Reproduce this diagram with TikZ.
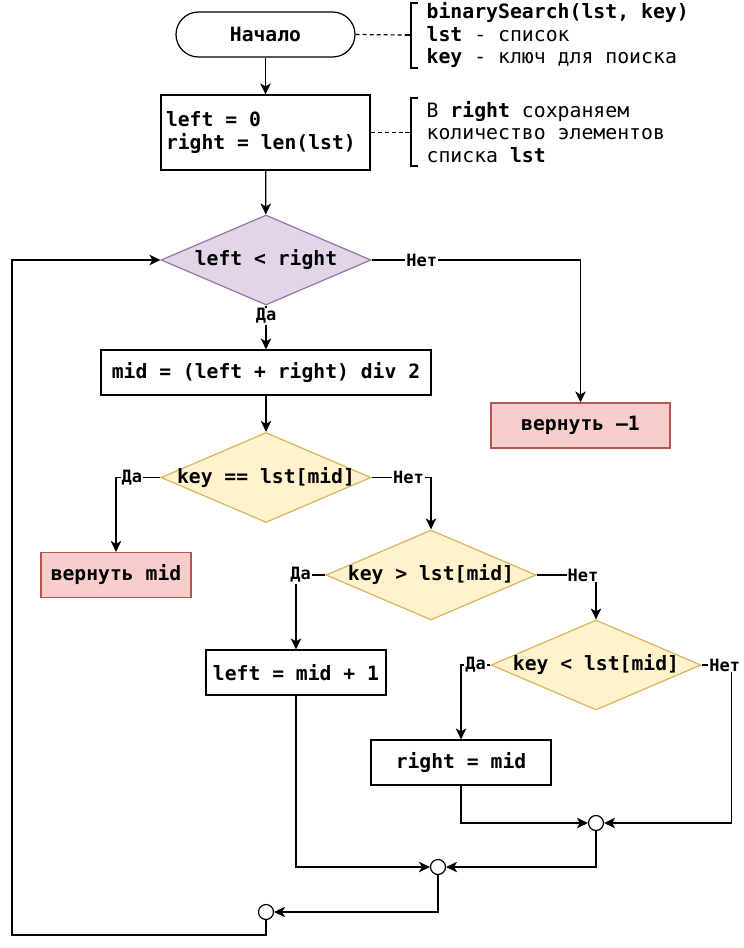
\documentclass[tikz,border=0pt]{standalone}
\usepackage{fontspec}
\newfontfamily\codefont{DejaVu Sans Mono}
\usetikzlibrary{shapes.geometric,arrows.meta}
\definecolor{lilac}{HTML}{E1D5E7}
\definecolor{lilacline}{HTML}{9673A6}
\definecolor{sand}{HTML}{FFF2CC}
\definecolor{sandline}{HTML}{D6B656}
\definecolor{rose}{HTML}{F8CECC}
\definecolor{roseline}{HTML}{B85450}

\begin{document}
\begin{tikzpicture}[x=1pt,y=-1pt,line width=1.2pt,
  >={Stealth[length=11pt,width=10.5pt,inset=3pt]},
  every node/.style={font=\codefont\bfseries\fontsize{19.7}{23}\selectfont},
  box/.style={draw,minimum height=45pt,inner sep=0pt},
  retbox/.style={box,fill=rose,draw=roseline},
  cond/.style={diamond,draw,aspect=2.33,minimum width=210pt,minimum height=90pt,inner sep=-3pt},
  lbl/.style={fill=white,inner sep=1pt,font=\codefont\bfseries\fontsize{17}{20}\selectfont},
  joint/.style={circle,draw,fill=white,minimum size=15pt,inner sep=0pt},
  note/.style={anchor=west,align=flush left,inner sep=0pt,font=\codefont\bfseries\fontsize{19.8}{22.5}\selectfont},
  bracket/.style={line width=2.2pt},
  link/.style={dash pattern=on 4pt off 3pt}]
\useasboundingbox (0,0) rectangle (744,948);

\node[box,rounded corners=22.5pt,minimum width=179pt] (start) at (265.5,34.5) {Начало};
\node[box,minimum width=209pt,minimum height=75pt,text width=199pt,align=flush left] (init) at (265.5,132.5) {left = 0\\right = len(lst)};
\node[cond,fill=lilac,draw=lilacline] (loop) at (266,260) {left < right};
\node[box,minimum width=330pt] (mid) at (266,372.5) {mid = (left + right) div 2};
\node[retbox,minimum width=179pt] (notfound) at (580.5,425.5) {вернуть –1};
\node[cond,fill=sand,draw=sandline] (eq) at (266,477.5) {key == lst[mid]};
\node[retbox,minimum width=150pt] (found) at (116,575) {вернуть mid};
\node[cond,fill=sand,draw=sandline] (gt) at (431,575) {key > lst[mid]};
\node[box,minimum width=180pt] (inc) at (296,672.5) {left = mid + 1};
\node[cond,fill=sand,draw=sandline] (lt) at (596,665) {key < lst[mid]};
\node[box,minimum width=180pt] (dec) at (461,762.5) {right = mid};
\node[joint] (j1) at (596,823) {};
\node[joint] (j2) at (438,867) {};
\node[joint] (j3) at (266,912) {};

% comments
\node[note] (note1) at (426,35) {binarySearch(lst, key)\\lst {\mdseries - список}\\key {\mdseries - ключ для поиска}};
\draw[bracket] (418,3) -| (411,68) -- (418,68);
\coordinate (b1) at (411,35);
\draw[link] (start.east) -- ([xshift=-6pt]b1);
\draw ([xshift=-6pt]b1) -- (b1);

\node[note] (note2) at (426,132) {{\mdseries В} right {\mdseries сохраняем}\\{\mdseries количество элементов}\\{\mdseries списка} lst};
\draw[bracket] (418,98) -| (411,166) -- (418,166);
\coordinate (b2) at (411,132.5);
\draw[link] (init.east) -- ([xshift=-6pt]b2);
\draw ([xshift=-6pt]b2) -- (b2);

% flow
\draw[->] (start) -- (init);
\draw[->] (init) -- (loop);
\draw[->] (loop) -- (mid) node[lbl,pos=0.24] {Да};
\draw[->] (loop.east) -| (notfound.north) node[lbl,pos=0.12] {Нет};
\draw[->] (mid) -- (eq);
\draw[->] (eq.west) -| (found.north) node[lbl,pos=0.32] {Да};
\draw[->] (eq.east) -| (gt.north) node[lbl,pos=0.31] {Нет};
\draw[->] (gt.west) -| (inc.north) node[lbl,pos=0.42] {Да};
\draw[->] (gt.east) -| (lt.north) node[lbl,pos=0.39] {Нет};
\draw[->] (lt.west) -| (dec.north) node[lbl,pos=0.25] {Да};
\draw[->] (lt.east) -- ++(30,0) node[lbl,pos=0.77] {Нет} |- (j1.east);
\draw[->] (dec.south) |- (j1.west);
\draw[->] (inc.south) |- (j2.west);
\draw[->] (j1.south) |- (j2.east);
\draw[->] (j2.south) |- (j3.east);
\draw[->] (j3.south) |- (12,935) |- (loop.west);
\end{tikzpicture}
\end{document}
